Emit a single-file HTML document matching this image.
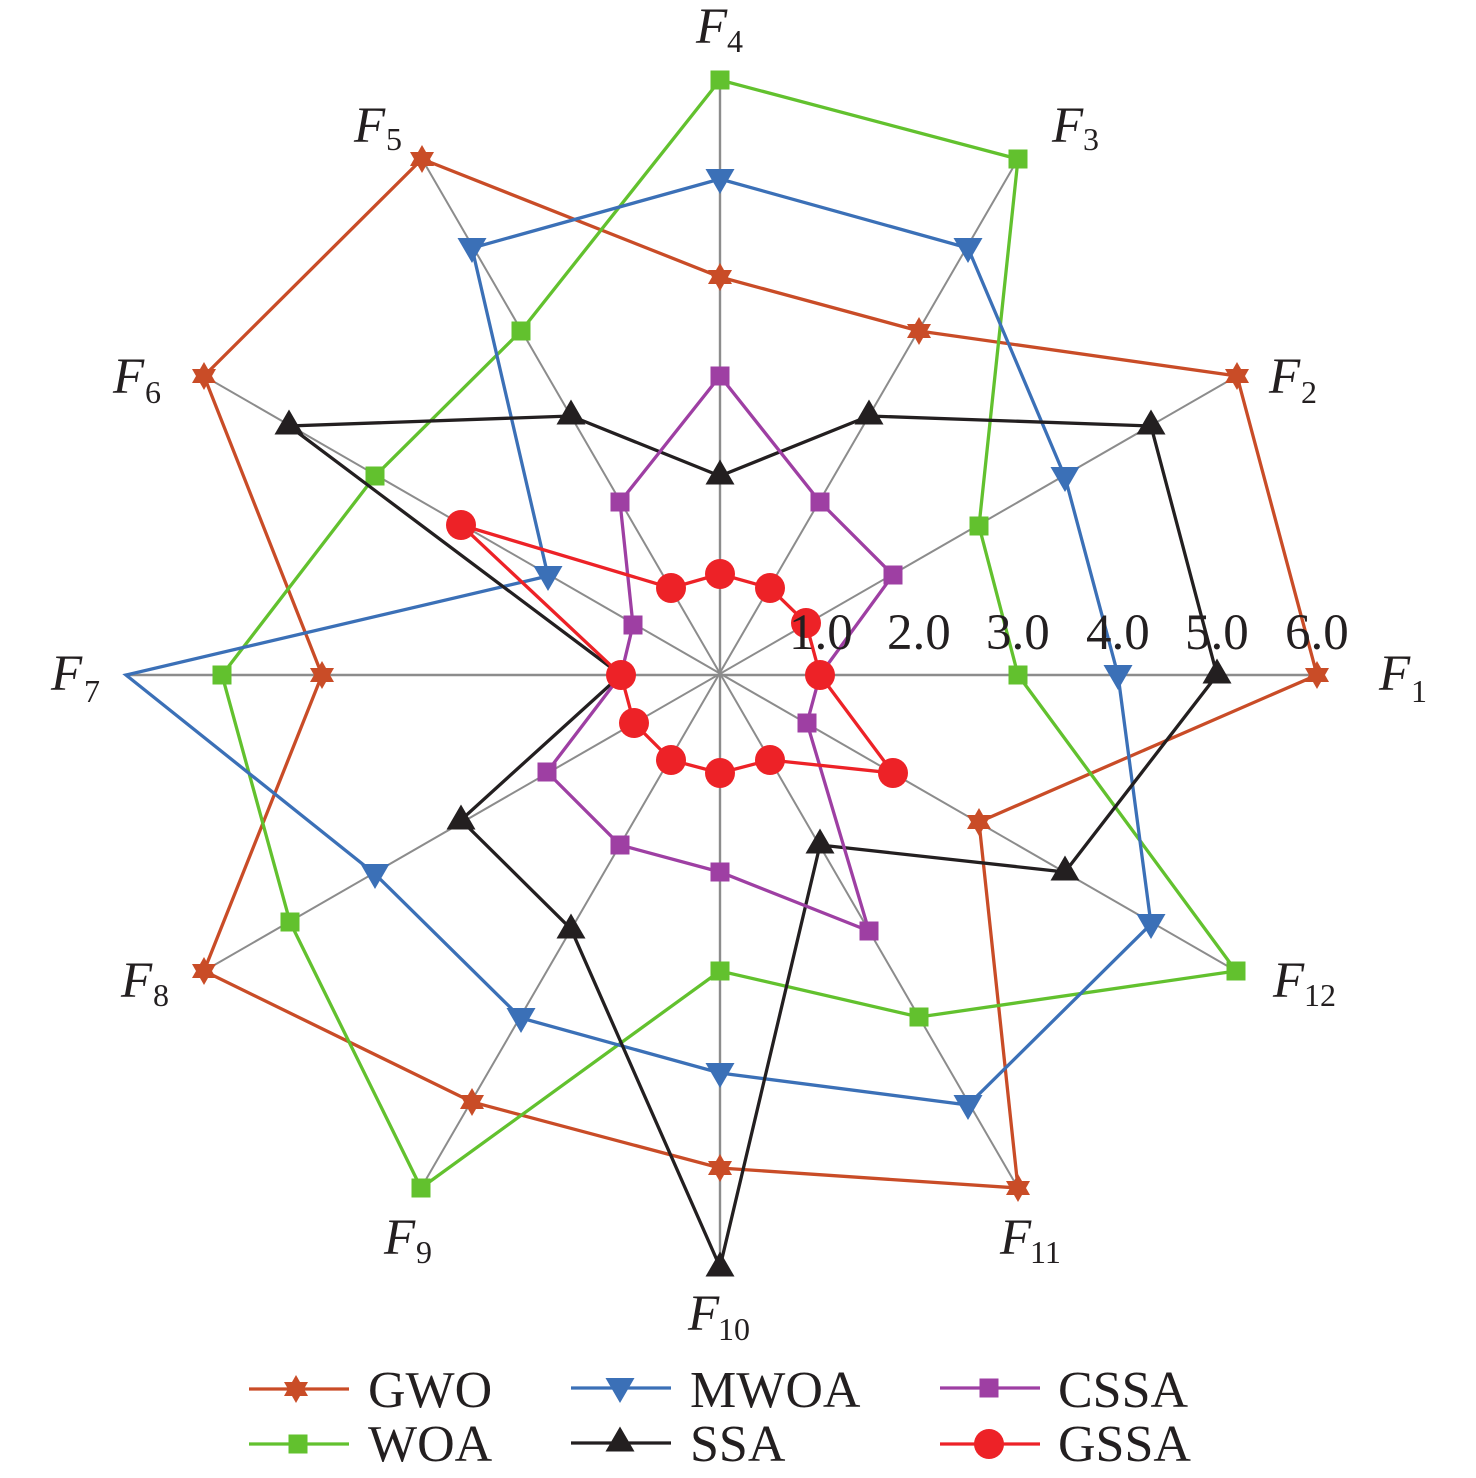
<!DOCTYPE html>
<html>
<head>
<meta charset="utf-8">
<style>
html,body{margin:0;padding:0;background:#fff}
svg{display:block}
text{font-family:"Liberation Serif",serif;fill:#231f20}
.n{font-size:51px}
.l{font-size:52px}
.f{font-size:51px;font-style:italic}
.s{font-size:32px}
.g{fill:none;stroke-width:3.3;stroke-linejoin:miter;stroke-miterlimit:10}
</style>
</head>
<body>
<svg width="1476" height="1478" viewBox="0 0 1476 1478" xmlns="http://www.w3.org/2000/svg">
<defs>
<g id="st"><polygon points="0,-14 12,7 -12,7"/><polygon points="0,14 12,-7 -12,-7"/></g>
<rect id="sq" x="-9.5" y="-9.5" width="19" height="19"/>
<polygon id="dn" points="-14.5,-10 14.5,-10 0,15"/>
<polygon id="up" points="-14.5,8.5 14.5,8.5 0,-16.5"/>
<circle id="ci" r="15"/>
</defs>

<g stroke="#8c8c8c" stroke-width="2" fill="none">
<line x1="126" y1="675" x2="1317" y2="675" stroke-width="2.4"/>
<line x1="720" y1="80" x2="720" y2="1267" stroke-width="2.4"/>
<line x1="204" y1="376" x2="1236" y2="971"/>
<line x1="204" y1="971" x2="1237" y2="376"/>
<line x1="422" y1="159" x2="1018" y2="1188"/>
<line x1="421" y1="1188" x2="1018" y2="159"/>
</g>

<!-- GWO -->
<polygon class="g" stroke="#c94c27" points="1317,675 1237,376 919,331 720,277 422,159 204,376 322,675 204,971 472,1102 720,1168 1018,1188 979,822"/>
<g fill="#c94c27">
<use href="#st" x="1317" y="675"/><use href="#st" x="1237" y="376"/><use href="#st" x="919" y="331"/><use href="#st" x="720" y="277"/><use href="#st" x="422" y="159"/><use href="#st" x="204" y="376"/><use href="#st" x="322" y="675"/><use href="#st" x="204" y="971"/><use href="#st" x="472" y="1102"/><use href="#st" x="720" y="1168"/><use href="#st" x="1018" y="1188"/><use href="#st" x="979" y="822"/>
</g>

<!-- WOA -->
<polygon class="g" stroke="#62c12e" points="1018,675 979,526 1018,159 720,80 521,331 375,476 222,675 290,922 421,1188 720,971 919,1017 1236,971"/>
<g fill="#62c12e">
<use href="#sq" x="1018" y="675"/><use href="#sq" x="979" y="526"/><use href="#sq" x="1018" y="159"/><use href="#sq" x="720" y="80"/><use href="#sq" x="521" y="331"/><use href="#sq" x="375" y="476"/><use href="#sq" x="222" y="675"/><use href="#sq" x="290" y="922"/><use href="#sq" x="421" y="1188"/><use href="#sq" x="720" y="971"/><use href="#sq" x="919" y="1017"/><use href="#sq" x="1236" y="971"/>
</g>

<!-- MWOA -->
<polygon class="g" stroke="#3b70b7" points="1118,675 1065,477 968,248 720,179 472,248 548,576 126,675 375,874 521,1018 720,1073 968,1105 1151,924"/>
<g fill="#3b70b7">
<use href="#dn" x="1118" y="675"/><use href="#dn" x="1065" y="477"/><use href="#dn" x="968" y="248"/><use href="#dn" x="720" y="179"/><use href="#dn" x="472" y="248"/><use href="#dn" x="548" y="576"/><use href="#dn" x="375" y="874"/><use href="#dn" x="521" y="1018"/><use href="#dn" x="720" y="1073"/><use href="#dn" x="968" y="1105"/><use href="#dn" x="1151" y="924"/>
</g>

<!-- SSA -->
<polygon class="g" stroke="#231f20" points="1217,675 1151,426 869,416 720,476 571,416 289,426 621,675 461,820 571,929 720,1267 820,845 1065,872"/>
<g fill="#231f20">
<use href="#up" x="1217" y="675"/><use href="#up" x="1151" y="426"/><use href="#up" x="869" y="416"/><use href="#up" x="720" y="476"/><use href="#up" x="571" y="416"/><use href="#up" x="289" y="426"/><use href="#up" x="461" y="821"/><use href="#up" x="571" y="930"/><use href="#up" x="720" y="1268"/><use href="#up" x="820" y="845"/><use href="#up" x="1065" y="872"/>
</g>

<!-- CSSA -->
<polygon class="g" stroke="#9e3fa3" points="820,675 893,575 820,502 720,376 620,502 633,625 621,675 547,772 620,845 720,872 869,931 807,723"/>
<g fill="#9e3fa3">
<use href="#sq" x="893" y="575"/><use href="#sq" x="820" y="502"/><use href="#sq" x="720" y="376"/><use href="#sq" x="620" y="502"/><use href="#sq" x="633" y="625"/><use href="#sq" x="547" y="772"/><use href="#sq" x="620" y="845"/><use href="#sq" x="720" y="872"/><use href="#sq" x="869" y="931"/><use href="#sq" x="807" y="723"/>
</g>

<!-- GSSA -->
<polygon class="g" stroke="#ed2227" points="820,675 806,623 770,588 720,574 671,588 461,525 621,675 634,723 671,760 720,773 770,760 893,773"/>
<g fill="#ed2227">
<use href="#ci" x="820" y="675"/><use href="#ci" x="806" y="623"/><use href="#ci" x="770" y="588"/><use href="#ci" x="720" y="574"/><use href="#ci" x="671" y="588"/><use href="#ci" x="461" y="525"/><use href="#ci" x="621" y="675"/><use href="#ci" x="634" y="723"/><use href="#ci" x="671" y="760"/><use href="#ci" x="720" y="773"/><use href="#ci" x="770" y="760"/><use href="#ci" x="893" y="773"/>
</g>

<!-- scale labels -->
<text class="n" x="789" y="649">1.0</text>
<text class="n" x="887" y="649">2.0</text>
<text class="n" x="986" y="649">3.0</text>
<text class="n" x="1086" y="649">4.0</text>
<text class="n" x="1185" y="649">5.0</text>
<text class="n" x="1285" y="649">6.0</text>

<!-- axis labels -->
<text class="f" x="1379" y="690">F</text><text class="s" x="1411" y="702">1</text>
<text class="f" x="1269" y="393">F</text><text class="s" x="1301" y="403">2</text>
<text class="f" x="1052" y="142">F</text><text class="s" x="1083" y="150">3</text>
<text class="f" x="696" y="43">F</text><text class="s" x="727" y="52">4</text>
<text class="f" x="354" y="142">F</text><text class="s" x="386" y="150">5</text>
<text class="f" x="113" y="393">F</text><text class="s" x="145" y="403">6</text>
<text class="f" x="51" y="690">F</text><text class="s" x="84" y="702">7</text>
<text class="f" x="121" y="997">F</text><text class="s" x="153" y="1006">8</text>
<text class="f" x="384" y="1254">F</text><text class="s" x="416" y="1263">9</text>
<text class="f" x="688" y="1330">F</text><text class="s" x="718" y="1340">10</text>
<text class="f" x="1000" y="1254">F</text><text class="s" x="1030" y="1263">11</text>
<text class="f" x="1273" y="997">F</text><text class="s" x="1304" y="1006">12</text>

<!-- legend -->
<line x1="249" y1="1389" x2="349" y2="1389" stroke="#c94c27" stroke-width="3.3"/>
<use href="#st" x="296" y="1389" fill="#c94c27"/>
<text class="l" x="368" y="1407">GWO</text>

<line x1="249" y1="1444" x2="349" y2="1444" stroke="#62c12e" stroke-width="3.3"/>
<use href="#sq" x="298" y="1444" fill="#62c12e"/>
<text class="l" x="368" y="1461">WOA</text>

<line x1="571" y1="1388" x2="671" y2="1388" stroke="#3b70b7" stroke-width="3.3"/>
<use href="#dn" x="620" y="1388" fill="#3b70b7"/>
<text class="l" x="690" y="1407">MWOA</text>

<line x1="571" y1="1443" x2="671" y2="1443" stroke="#231f20" stroke-width="3.3"/>
<use href="#up" x="620" y="1443" fill="#231f20"/>
<text class="l" x="690" y="1461">SSA</text>

<line x1="940" y1="1388" x2="1040" y2="1388" stroke="#9e3fa3" stroke-width="3.3"/>
<use href="#sq" x="989" y="1388" fill="#9e3fa3"/>
<text class="l" x="1058" y="1407">CSSA</text>

<line x1="940" y1="1444" x2="1040" y2="1444" stroke="#ed2227" stroke-width="3.3"/>
<use href="#ci" x="989" y="1444" fill="#ed2227"/>
<text class="l" x="1058" y="1461">GSSA</text>
</svg>
</body>
</html>
